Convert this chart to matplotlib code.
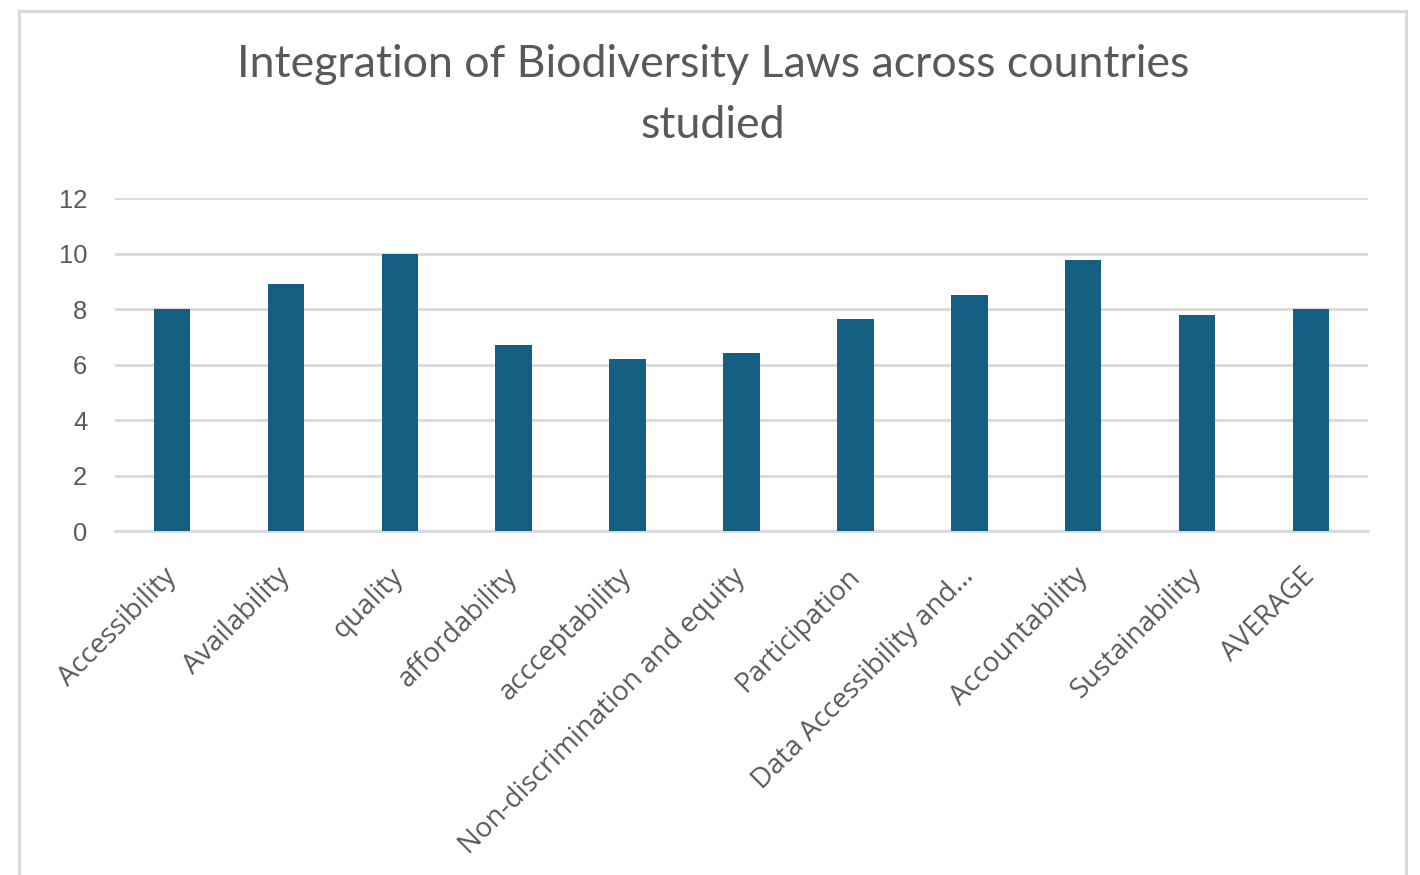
import matplotlib
matplotlib.use("Agg")
import matplotlib.pyplot as plt
from matplotlib.patches import Rectangle

categories = [
    "Accessibility", "Availability", "quality", "affordability",
    "accceptability", "Non-discrimination and equity", "Participation",
    "Data Accessibility and\u2026", "Accountability", "Sustainability", "AVERAGE",
]
scores = [8.0, 8.9, 10.0, 6.7, 6.2, 6.4, 7.65, 8.5, 9.75, 7.8, 8.0]
y_ticks = [0, 2, 4, 6, 8, 10, 12]
title_lines = ["Integration of Biodiversity Laws across countries", "studied"]

TEXT = "#595959"
GRID = "#d9d9d9"
BAR = "#156082"

plt.rcParams["font.family"] = ["Open Sans", "DejaVu Sans"]

fig = plt.figure(figsize=(14.2, 8.75), dpi=100)
fig.patch.set_facecolor("white")

# chart frame
fig.patches.append(Rectangle((0.0134, -0.02), 0.977, 1.008, transform=fig.transFigure,
                             fill=False, edgecolor=GRID, linewidth=2.2, zorder=0))

ax = fig.add_axes([0.081, 0.3931, 0.8824, 0.3806])
x = list(range(len(categories)))
ax.bar(x, scores, width=0.32, color=BAR, zorder=3)

ax.set_xlim(-0.5, len(categories) - 0.5)
ax.set_ylim(0, 12)
ax.set_yticks(y_ticks)
ax.set_yticklabels([str(v) for v in y_ticks], fontsize=18.4, color=TEXT,
                   family=["Liberation Sans", "DejaVu Sans"])
ax.yaxis.grid(True, color=GRID, linewidth=2, zorder=0)
ax.set_axisbelow(True)
ax.tick_params(axis="both", length=0)
ax.tick_params(axis="y", pad=20)
ax.set_xticks(x)
ax.set_xticklabels(categories, rotation=45, ha="right", va="center",
                   rotation_mode="anchor", fontsize=20, color=TEXT)
ax.tick_params(axis="x", pad=30)
for s in ["left", "right", "top"]:
    ax.spines[s].set_visible(False)
ax.spines["bottom"].set_color(GRID)
ax.spines["bottom"].set_linewidth(2)

for line, ypos in zip(title_lines, [0.912, 0.842]):
    fig.text(0.502, ypos, line, ha="center", va="baseline", fontsize=32.1,
             color=TEXT, family=["Lato", "DejaVu Sans"])

fig.savefig("out.png", dpi=100, facecolor="white")
